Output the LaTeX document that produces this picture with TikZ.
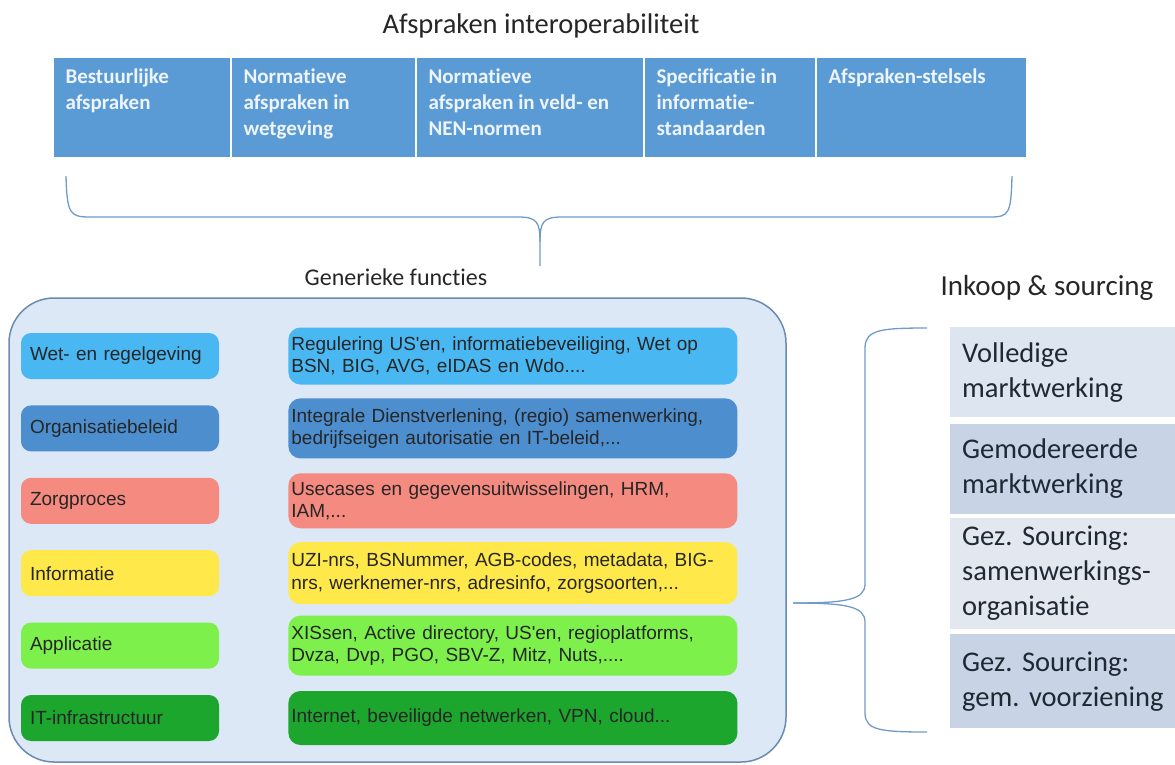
\documentclass[tikz,border=0pt]{standalone}
\usepackage{fontspec}
\setmainfont{Carlito}[Ligatures=NoCommon]
\newfontfamily\arialfont{Liberation Sans}
\usetikzlibrary{positioning}
\frenchspacing

\definecolor{head-blue}{HTML}{5B9BD5}
\definecolor{head-text}{HTML}{EEF4FB}
\definecolor{title-text}{HTML}{262626}
\definecolor{panel-fill}{HTML}{DCE8F6}
\definecolor{panel-line}{HTML}{6A8BB0}
\definecolor{brace-blue}{HTML}{6F9BC8}
\definecolor{wet-blue}{HTML}{49B7F2}
\definecolor{org-blue}{HTML}{4D8ECF}
\definecolor{zorg-red}{HTML}{F58A80}
\definecolor{info-yellow}{HTML}{FFE94A}
\definecolor{app-green}{HTML}{7DF04B}
\definecolor{it-green}{HTML}{1CA62E}
\definecolor{ink-light}{HTML}{DCE5F0}
\definecolor{ink-dark}{HTML}{C8D4E6}
\definecolor{ink-pale}{HTML}{E3E8F0}
\definecolor{ink-text}{HTML}{1F2833}

\begin{document}
\begin{tikzpicture}[x=1pt, y=-1pt,
title/.style={font=\fontsize{26}{31}\selectfont, text=title-text, anchor=base},
block-header/.style={rectangle, draw=white, line width=1pt, fill=head-blue,
text=head-text, font=\bfseries\fontsize{21}{26}\selectfont,
inner xsep=12pt, inner ysep=8pt},
panel/.style={rectangle, rounded corners=45pt, draw=panel-line, line width=1.5pt,
fill=panel-fill, minimum width=777pt, minimum height=464pt},
row-left/.style={rectangle, rounded corners=10pt, minimum width=198pt,
minimum height=46pt, text width=180pt, inner xsep=9pt, align=left,
font=\arialfont\fontsize{19}{22.5}\selectfont, text=black!85, node distance=72.4pt},
row-right/.style={rectangle, rounded corners=12pt, minimum width=449pt,
text width=443pt, inner xsep=3pt, align=left,
font=\arialfont\fontsize{19}{22.5}\selectfont, text=black!85},
inkoop/.style={rectangle, minimum width=225pt, text width=213pt, inner xsep=12pt,
align=left, font=\fontsize{28.5}{35}\selectfont, text=ink-text},
brace-line/.style={draw=brace-blue, line width=1.3pt}
]

\useasboundingbox (0,0) rectangle (1175,764);

% afspraken
\node [title, font=\fontsize{28.5}{34}\selectfont] (afspr-title) at (541,33) {Afspraken interoperabiliteit};
\node [block-header, anchor=north west] (bestuur) at (53,57)
  {\parbox[c][84pt][t]{153pt}{\strut Bestuurlijke\\afspraken}};
\node [block-header, right=0pt of bestuur] (norm-wet)
  {\parbox[c][84pt][t]{160pt}{\strut Normatieve\\afspraken in\\wetgeving}};
\node [block-header, right=0pt of norm-wet] (norm-nen)
  {\parbox[c][84pt][t]{203pt}{\strut Normatieve\\afspraken in veld- en\\NEN-normen}};
\node [block-header, right=0pt of norm-nen] (spec)
  {\parbox[c][84pt][t]{147pt}{\strut Specificatie in\\informatie-\\standaarden}};
\node [block-header, right=0pt of spec] (stelsels)
  {\parbox[c][84pt][t]{186pt}{\strut Afspraken-stelsels}};

\coordinate (top-brace-l) at (66,176);
\coordinate (top-brace-tip) at (540,266);
\coordinate (top-brace-r) at (1012,176);
\path [brace-line] (top-brace-l) .. controls (67,214) and (70,217) .. (90,217)
  -- (518,217) .. controls (537,217) and (540,222) .. (540,242) -- (top-brace-tip);
\path [brace-line] (540,242) .. controls (540,222) and (543,217) .. (562,217)
  -- (990,217) .. controls (1009,217) and (1011,214) .. (top-brace-r);

% generieke functies
\node [title, font=\fontsize{24}{29}\selectfont] (gen-title) at (396,285) {Generieke functies};
\node [panel] (generic) at (397.5,530) {};

\node [row-left, fill=wet-blue] (wet) at (120,356) {Wet- en regelgeving};
\node [row-left, fill=org-blue, below of=wet] (org) {Organisatiebeleid};
\node [row-left, fill=zorg-red, below of=org] (zorg) {Zorgproces};
\node [row-left, fill=info-yellow, below of=zorg] (info) {Informatie};
\node [row-left, fill=app-green, below of=info] (app) {Applicatie};
\node [row-left, fill=it-green, below of=app] (it) {IT-infrastructuur};

\node [row-right, fill=wet-blue, minimum height=57pt, right=69pt of wet] (wet-detail)
  {Regulering US'en, informatiebeveiliging, Wet op\\BSN, BIG, AVG, eIDAS en Wdo....};
\node [row-right, fill=org-blue, minimum height=60pt, right=69pt of org] (org-detail)
  {Integrale Dienstverlening, (regio) samenwerking,\\bedrijfseigen autorisatie en IT-beleid,...};
\node [row-right, fill=zorg-red, minimum height=55pt, right=69pt of zorg] (zorg-detail)
  {Usecases en gegevensuitwisselingen, HRM,\\IAM,...};
\node [row-right, fill=info-yellow, minimum height=62pt, right=69pt of info] (info-detail)
  {UZI-nrs, BSNummer, AGB-codes, metadata, BIG-\\nrs, werknemer-nrs, adresinfo, zorgsoorten,...};
\node [row-right, fill=app-green, minimum height=60pt, right=69pt of app] (app-detail)
  {XISsen, Active directory, US'en, regioplatforms,\\Dvza, Dvp, PGO, SBV-Z, Mitz, Nuts,....};
\node [row-right, fill=it-green, minimum height=54pt, right=69pt of it] (it-detail)
  {Internet, beveiligde netwerken, VPN, cloud...};

% inkoop & sourcing
\node [title, font=\fontsize{29}{35}\selectfont] (ink-title) at (1047,295) {Inkoop \& sourcing};
\node [inkoop, fill=ink-light, minimum height=90pt, anchor=north west] (volledig) at (950,327)
  {Volledige\\marktwerking};
\node [inkoop, fill=ink-dark, minimum height=90pt, below=6pt of volledig] (gemod)
  {Gemodereerde\\marktwerking};
\node [inkoop, fill=ink-pale, minimum height=111pt, below=4pt of gemod] (samenw)
  {Gez. Sourcing:\\samenwerkings-\\organisatie};
\node [inkoop, fill=ink-dark, minimum height=94pt, below=5pt of samenw] (gemvoorz)
  {Gez. Sourcing:\\gem. voorziening};

\coordinate (side-brace-t) at (927,328);
\coordinate (side-brace-tip) at (793,603);
\coordinate (side-brace-b) at (927,732);
\path [brace-line] (side-brace-t) .. controls (880,328) and (866,330) .. (865,347)
  -- (865,584) .. controls (865,600) and (845,603) .. (side-brace-tip);
\path [brace-line] (side-brace-tip) .. controls (845,603) and (865,606) .. (865,622)
  -- (865,714) .. controls (866,730) and (880,732) .. (side-brace-b);

\end{tikzpicture}
\end{document}
